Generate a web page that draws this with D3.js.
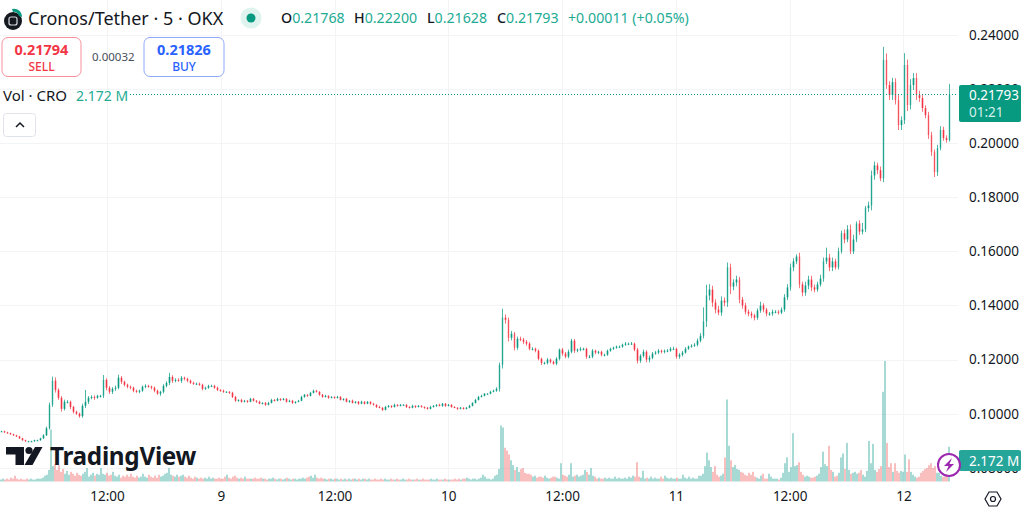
<!DOCTYPE html>
<html>
<head>
<meta charset="utf-8">
<script src="https://cdn.jsdelivr.net/npm/d3@7"></script>
<style>
  html, body { margin: 0; padding: 0; background: #fff; overflow: hidden; }
  svg { display: block; }
  text { font-family: "Noto Sans", sans-serif; fill: #131722; }
</style>
</head>
<body>
<svg id="canvas" width="1024" height="510"></svg>
<script>
// closes, one candle every 3 pixels
let closes = [
  .0935,.0931,.0928,.0924,.0920,.0916,.0909,.0902,.0898,.0898,
  .0898,.0902,.0902,.0909,.0920,.0946,.1033,.1122,.1088,.1059,
  .1018,.1044,.1044,.1025,.1007,.1000,.0991,.1029,.1044,.1059,
  .1062,.1059,.1066,.1066,.1125,.1096,.1081,.1092,.1096,.1133,
  .1118,.1107,.1100,.1096,.1085,.1081,.1085,.1100,.1103,.1100,
  .1096,.1085,.1074,.1081,.1103,.1114,.1136,.1122,.1125,.1122,
  .1133,.1129,.1122,.1114,.1111,.1111,.1107,.1092,.1096,.1103,
  .1103,.1096,.1088,.1085,.1081,.1081,.1077,.1062,.1048,.1051,
  .1044,.1048,.1044,.1055,.1048,.1044,.1037,.1040,.1033,.1040,
  .1051,.1048,.1055,.1051,.1055,.1044,.1048,.1040,.1044,.1048,
  .1062,.1070,.1066,.1077,.1085,.1081,.1070,.1062,.1066,.1059,
  .1062,.1059,.1062,.1051,.1055,.1044,.1048,.1040,.1044,.1037,
  .1044,.1037,.1044,.1037,.1033,.1025,.1022,.1014,.1025,.1029,
  .1025,.1033,.1029,.1033,.1033,.1025,.1022,.1029,.1025,.1029,
  .1025,.1022,.1018,.1025,.1029,.1033,.1029,.1037,.1029,.1033,
  .1025,.1022,.1018,.1022,.1018,.1022,.1029,.1040,.1051,.1062,
  .1066,.1074,.1074,.1081,.1085,.1092,.1181,.1355,.1347,.1281,
  .1296,.1244,.1277,.1274,.1266,.1259,.1240,.1240,.1233,.1203,
  .1188,.1188,.1200,.1192,.1185,.1203,.1237,.1222,.1211,.1229,
  .1270,.1233,.1237,.1240,.1240,.1211,.1211,.1233,.1226,.1229,
  .1218,.1218,.1233,.1240,.1244,.1248,.1248,.1255,.1259,.1259,
  .1259,.1237,.1196,.1214,.1229,.1200,.1207,.1222,.1226,.1233,
  .1229,.1233,.1233,.1240,.1240,.1211,.1218,.1226,.1240,.1248,
  .1251,.1255,.1270,.1288,.1341,.1437,.1459,.1411,.1385,.1374,
  .1418,.1411,.1541,.1470,.1485,.1496,.1422,.1400,.1377,.1370,
  .1363,.1355,.1381,.1400,.1385,.1370,.1370,.1377,.1377,.1374,
  .1385,.1430,.1467,.1541,.1563,.1581,.1478,.1448,.1474,.1496,
  .1467,.1459,.1478,.1500,.1563,.1577,.1541,.1563,.1541,.1600,
  .1667,.1644,.1681,.1600,.1644,.1703,.1673,.1681,.1760,.1770,
  .1881,.1918,.1900,.1870,.2308,.2215,.2178,.2226,.2159,.2067,
  .2085,.2289,.2141,.2215,.2241,.2178,.2167,.2130,.2104,.2030,
  .1967,.1893,.1982,.2049,.2019,.2012,.21793
]

// wick lengths above / below the body, in 0.0001 USDT
let wickUp = [
  2,2,2,2,2,2,2,2,2,2,
  2,2,2,2,4,6,8,15,12,6,
  6,8,6,4,4,4,4,8,44,6,
  6,6,4,4,18,6,6,6,8,11,
  6,4,4,4,4,4,4,4,6,4,
  4,4,4,4,6,6,15,6,6,6,
  6,4,4,4,4,4,4,4,4,4,
  4,4,4,2,4,2,2,4,4,2,
  4,3,2,4,3,2,4,2,3,4,
  4,3,4,2,3,2,4,3,2,3,
  4,3,2,4,4,3,2,3,4,2,
  3,2,4,3,2,3,2,4,2,3,
  4,2,3,2,3,2,4,2,4,3,
  2,4,2,3,2,2,3,4,2,3,
  2,2,3,4,3,2,4,3,2,3,
  2,3,2,3,2,3,4,2,4,4,
  4,2,2,4,4,6,8,33,12,8,
  10,6,8,8,6,6,6,6,4,4,
  4,4,6,4,4,6,4,6,6,8,
  7,6,4,6,4,4,6,6,4,4,
  4,4,4,4,4,4,4,4,6,4,
  6,4,6,6,8,6,8,6,6,6,
  4,4,6,6,8,4,6,6,6,4,
  6,6,8,10,52,40,20,14,12,14,
  16,12,18,14,12,14,10,10,10,8,
  8,6,8,14,8,6,6,8,6,6,
  8,12,12,14,12,8,14,10,14,14,
  14,10,10,14,14,37,14,14,10,14,
  10,14,16,18,18,8,12,24,8,14,
  18,14,10,14,48,24,14,16,14,20,
  14,44,20,22,18,18,16,12,10,12,
  12,10,12,14,12,10,40
]
let wickDown = [
  2,2,2,2,2,2,2,2,2,2,
  2,2,2,2,2,2,4,8,10,8,
  10,6,6,8,6,4,6,6,8,8,
  6,8,4,6,8,10,8,8,8,6,
  8,6,6,6,6,4,6,4,6,4,
  6,6,4,8,6,6,8,8,6,4,
  8,6,6,4,4,4,4,6,4,4,
  4,4,4,4,4,2,4,4,4,4,
  3,2,4,2,3,4,2,3,4,2,
  2,3,2,4,2,3,2,4,3,2,
  2,3,4,2,2,3,4,3,2,4,
  2,4,3,2,3,2,4,2,3,4,
  2,3,2,4,3,4,2,4,2,3,
  4,2,3,2,2,4,3,2,4,2,
  3,4,3,2,2,4,2,3,4,2,
  3,2,4,2,3,2,2,2,2,2,
  2,2,2,2,2,4,10,14,14,14,
  10,10,8,6,8,8,6,6,6,6,
  8,6,6,6,4,6,6,8,6,6,
  6,8,6,6,6,8,6,6,6,6,
  6,6,4,4,4,4,4,4,4,6,
  4,6,10,8,6,10,10,6,4,6,
  6,6,6,4,4,8,8,6,4,4,
  4,4,6,6,10,20,18,16,14,10,
  12,14,16,28,14,14,14,12,10,10,
  10,10,8,8,10,10,8,8,6,8,
  6,8,10,12,14,10,14,14,12,14,
  14,10,8,8,12,10,14,14,8,8,
  8,14,10,10,10,10,12,10,10,14,
  18,16,14,10,14,14,18,18,16,18,
  18,14,22,16,18,18,14,14,12,14,
  14,18,14,8,10,10,6
]

// volume in millions CRO, finer than the candles
let volumes = [
  .2,.3,.2,.3,.2,.4,.3,.6,.3,.2,.3,.2,.2,.3,.2,.3,.2,.2,.3,.3,.3,.4,.6,.7,1.2,
  5.4,1.6,1.8,1.2,1.7,1.0,1.3,.8,1.1,.7,1.0,.8,.6,.9,.7,.6,.8,1.0,1.4,.5,.7,.9,.6,.8,.7,
  1.4,.8,.7,.9,.6,.7,1.0,.6,.5,.7,.4,.6,.5,.7,.5,.8,.5,.4,.6,.4,.5,.8,.5,.4,.7,
  .5,.4,.6,.4,.7,.5,.6,.8,.9,1.4,.7,.6,.5,.7,.5,.6,.7,.5,.4,.6,.4,.3,.5,.4,.3,
  .4,.3,.4,.3,.5,.3,.4,.3,.3,.4,.3,.3,.5,.7,.4,.3,.5,.6,.4,.3,.4,.3,.5,.3,.3,
  .3,.3,.4,.3,.3,.4,.3,.3,.2,.3,.3,.4,.3,.2,.3,.3,.2,.3,.4,.3,.2,.3,.3,.2,.3,
  .3,.4,.3,.4,.5,.6,.4,.7,.4,.3,.4,.3,.3,.2,.3,.3,.2,.3,.3,.2,.3,.2,.3,.2,.3,
  .2,.3,.3,.2,.3,.2,.3,.3,.2,.3,.2,.2,.3,.2,.2,.3,.2,.3,.2,.2,.3,.2,.2,.3,.2,
  .2,.3,.2,.2,.3,.2,.2,.2,.3,.2,.2,.3,.2,.2,.2,.3,.2,.2,.3,.2,.2,.2,.3,.2,.2,
  .2,.2,.3,.2,.3,.2,.3,.3,.4,.3,.2,.3,.3,.2,.3,.4,.7,.5,.3,.3,.2,.3,.6,.7,1.3,
  5.8,5.6,3.5,3.2,2.8,2.2,1.7,1.2,1.5,1.0,1.3,1.4,.9,.8,.8,.7,.5,.6,.4,.5,.5,.4,.6,.4,.3,
  .4,.5,.5,.4,.3,1.9,.7,.6,.5,.7,1.9,.5,.6,.7,.5,.6,.7,1.2,1.0,.7,1.4,.6,.5,.3,.4,
  .3,.3,.4,.3,.4,.3,.3,.5,.3,.4,.3,.3,.4,.3,.5,.4,.6,.5,2.0,.5,.4,1.1,.3,.4,.3,
  .5,.3,.4,.3,.3,.5,.3,.6,.4,.3,.4,.3,.3,.4,.3,.3,.7,.4,.3,.5,.3,.4,.3,.3,.6,
  .6,.8,1.6,3.0,2.2,1.5,1.0,1.6,.7,.5,.6,.8,2.5,8.5,3.7,2.2,1.5,1.7,1.3,1.2,1.0,.9,.7,.6,.9,
  .7,1.0,.5,.4,.3,.6,.8,.3,.3,.8,.5,.3,.3,.3,.2,.4,.9,1.9,2.5,1.0,1.5,5.0,1.6,1.7,2.0,
  1.0,.7,.5,.6,.5,.4,.4,.5,.6,.8,1.5,3.1,1.8,1.6,3.7,1.2,1.0,.5,.6,.9,2.5,2.9,1.3,4.0,1.2,
  .8,.9,1.0,.8,.9,1.2,.7,.5,1.1,4.2,1.9,3.9,1.2,1.0,1.3,1.6,9.3,12.5,4.0,1.5,1.9,1.0,1.9,1.1,.9,
  1.1,1.0,2.8,1.0,2.3,1.0,.7,.5,.4,.5,.9,1.1,1.3,1.4,1.7,1.9,1.4,1.6,.9,.9,.6,.5,.5,.6,3.6
]

let priceTicks = [0.08, 0.10, 0.12, 0.14, 0.16, 0.18, 0.20, 0.22, 0.24]
let timeTicks = [12, 24, 36, 48, 60, 72, 84, 96] // hours since midnight on the 8th
let timeLabels = ['12:00', '9', '12:00', '10', '12:00', '11', '12:00', '12']
let ohlcLabels = ['O', 'H', 'L', 'C']
let ohlcValues = ['0.21768', '0.22200', '0.21628', '0.21793']
let lastPrice = 0.21793
let lastVolume = 2.172

let up = '#089981'
let down = '#f23645'
let legendGreen = '#22ab94'
let chartRight = 958

let svg = d3.select('#canvas')

// the reference is a slightly soft screenshot
svg.append('defs').append('filter')
  .attr('id', 'soft')
  .append('feGaussianBlur')
  .attr('stdDeviation', 0.35)

let y = d3.scaleLinear().domain([0.24, 0.08]).range([35, 467.8])
let xTime = d3.scaleLinear().domain([0.71, 101.76]).range([0, chartRight])
let x = d3.scaleLinear().domain([0, closes.length]).range([0, 951])
let xVol = d3.scaleLinear().domain([0, volumes.length]).range([0, 950])
let yVol = d3.scaleLinear().domain([0, 12.6]).range([481.5, 360])

let candles = closes.map((c, i) => {
  let o = i === 0 ? c : closes[i - 1]
  return {
    i: i, o: o, c: c,
    h: Math.max(o, c) + wickUp[i] * 0.0001,
    l: Math.min(o, c) - wickDown[i] * 0.0001
  }
})

// grid
let grid = svg.append('g').attr('stroke', '#f3f4f6').attr('stroke-width', 1)
grid.selectAll('line.h')
  .data(priceTicks)
  .enter()
  .append('line')
  .attr('x1', 0)
  .attr('x2', chartRight)
  .attr('y1', d => Math.round(y(d)) + 0.5)
  .attr('y2', d => Math.round(y(d)) + 0.5)
grid.selectAll('line.v')
  .data(timeTicks)
  .enter()
  .append('line')
  .attr('y1', 0)
  .attr('y2', 483)
  .attr('x1', d => Math.round(xTime(d)) + 0.5)
  .attr('x2', d => Math.round(xTime(d)) + 0.5)

// volume
svg.append('g').attr('filter', 'url(#soft)').selectAll('rect')
  .data(volumes)
  .enter()
  .append('rect')
  .attr('x', (d, i) => xVol(i) + 0.2)
  .attr('width', 1.6)
  .attr('y', d => yVol(d))
  .attr('height', d => yVol(0) - yVol(d))
  .attr('fill', (d, i) => {
    let k = Math.min(closes.length - 1, Math.floor(x.invert(xVol(i))))
    return candles[k].c >= candles[k].o ? 'rgba(38,166,154,0.5)' : 'rgba(239,83,80,0.45)'
  })

// candles, long bodies come out pale in the reference as they are sub pixel wide
let candleG = svg.append('g').attr('filter', 'url(#soft)').selectAll('g')
  .data(candles)
  .enter()
  .append('g')
  .attr('fill-opacity', d => Math.abs(y(d.o) - y(d.c)) > 14 ? 0.55 : 1)
candleG.append('line')
  .attr('x1', d => x(d.i) + 1.5)
  .attr('x2', d => x(d.i) + 1.5)
  .attr('y1', d => y(d.h))
  .attr('y2', d => y(d.l))
  .attr('stroke', d => d.c >= d.o ? up : down)
  .attr('stroke-width', 1)
  .attr('stroke-opacity', 0.7)
candleG.append('rect')
  .attr('x', d => x(d.i) + 0.7)
  .attr('width', 1.6)
  .attr('y', d => Math.min(y(d.o), y(d.c)))
  .attr('height', d => Math.max(1, Math.abs(y(d.o) - y(d.c))))
  .attr('fill', d => d.c >= d.o ? up : down)

// price line
svg.append('line')
  .attr('x1', 130)
  .attr('x2', chartRight)
  .attr('y1', 94.5)
  .attr('y2', 94.5)
  .attr('stroke', up)
  .attr('stroke-width', 1)
  .attr('stroke-dasharray', '1 2')

// axes
let priceAxis = d3.axisRight(y)
  .tickValues(priceTicks)
  .tickSize(0)
  .tickPadding(0)
  .tickFormat(d3.format('.5f'))
svg.append('g')
  .attr('transform', 'translate(969,0)')
  .call(priceAxis)
  .call(g => g.select('.domain').remove())
  .selectAll('text')
  .style('font-family', '"Noto Sans", sans-serif')
  .style('font-size', '13.5px')
  .style('fill', '#131722')

let timeAxis = d3.axisBottom(xTime)
  .tickValues(timeTicks)
  .tickSize(0)
  .tickPadding(0)
  .tickFormat((d, i) => timeLabels[i])
svg.append('g')
  .attr('transform', 'translate(0,491)')
  .call(timeAxis)
  .call(g => g.select('.domain').remove())
  .selectAll('text')
  .style('font-family', '"Noto Sans", sans-serif')
  .style('font-size', '13.5px')
  .style('fill', '#131722')

// last price tag
svg.append('rect').attr('x', 959).attr('y', 85).attr('width', 62).attr('height', 37).attr('rx', 2).attr('fill', up)
svg.append('text').attr('x', 969).attr('y', 100)
  .style('font-size', '13.5px').style('fill', '#fff').text(lastPrice.toFixed(5))
svg.append('text').attr('x', 969).attr('y', 117)
  .style('font-size', '13.5px').style('fill', '#d5efe9').text('01:21')

// volume tag
svg.append('rect').attr('x', 959).attr('y', 450).attr('width', 62).attr('height', 21).attr('rx', 2).attr('fill', '#26a69a')
svg.append('text').attr('x', 969).attr('y', 466)
  .style('font-size', '13.5px').style('fill', '#fff').text(lastVolume.toFixed(3) + ' M')

// bolt badge
svg.append('circle').attr('cx', 949).attr('cy', 465).attr('r', 11).attr('fill', '#fff').attr('stroke', '#9c27b0').attr('stroke-width', 2)
svg.append('path').attr('d', 'M952 458 L944 466 L948.5 466 L946 472 L954 464 L949.5 464 Z').attr('fill', '#9c27b0')

// header
svg.append('circle').attr('cx', 13).attr('cy', 21).attr('r', 9).attr('fill', '#14181f')
svg.append('rect').attr('x', 9).attr('y', 17).attr('width', 8).attr('height', 8).attr('rx', 2).attr('fill', 'none').attr('stroke', '#d8dbe0').attr('stroke-width', 1.2)
svg.append('path').attr('d', 'M12 9 A8 8 0 0 1 22 17 L19 16 A5 5 0 0 0 13 12 Z').attr('fill', up)
svg.append('text').attr('x', 28).attr('y', 25).style('font-size', '18px').text('Cronos/Tether · 5 · OKX')
svg.append('circle').attr('cx', 251).attr('cy', 18).attr('r', 10.5).attr('fill', '#dff3ef')
svg.append('circle').attr('cx', 251).attr('cy', 18).attr('r', 4.5).attr('fill', up)

let ohlcX = [281, 354, 427, 497]
ohlcLabels.forEach((l, i) => {
  let t = svg.append('text').attr('x', ohlcX[i]).attr('y', 23).style('font-size', '14.2px')
  t.append('tspan').style('font-weight', 500).text(l)
  t.append('tspan').style('fill', legendGreen).text(ohlcValues[i])
})
svg.append('text').attr('x', 568).attr('y', 23).style('font-size', '14.2px').style('fill', legendGreen).text('+0.00011 (+0.05%)')

// sell / buy
svg.append('rect').attr('x', 2).attr('y', 37.5).attr('width', 79).attr('height', 39).attr('rx', 6).attr('fill', '#fff').attr('stroke', '#f7909a')
svg.append('text').attr('x', 41.5).attr('y', 55).attr('text-anchor', 'middle').style('font-size', '14.5px').style('font-weight', 700).style('fill', down).text('0.21794')
svg.append('text').attr('x', 41.5).attr('y', 71).attr('text-anchor', 'middle').style('font-size', '12px').style('font-weight', 500).style('fill', down).text('SELL')
svg.append('text').attr('x', 92).attr('y', 61).style('font-size', '11.5px').style('fill', '#4a4e59').text('0.00032')
svg.append('rect').attr('x', 144).attr('y', 37.5).attr('width', 80).attr('height', 39).attr('rx', 6).attr('fill', '#fff').attr('stroke', '#8fa8f8')
svg.append('text').attr('x', 184).attr('y', 55).attr('text-anchor', 'middle').style('font-size', '14.5px').style('font-weight', 700).style('fill', '#2962ff').text('0.21826')
svg.append('text').attr('x', 184).attr('y', 71).attr('text-anchor', 'middle').style('font-size', '12px').style('font-weight', 500).style('fill', '#2962ff').text('BUY')

// volume legend
svg.append('text').attr('x', 3).attr('y', 101).style('font-size', '15px').text('Vol · CRO')
svg.append('text').attr('x', 76).attr('y', 101).style('font-size', '14px').style('fill', legendGreen).text(lastVolume.toFixed(3) + ' M')
svg.append('rect').attr('x', 3.5).attr('y', 113.5).attr('width', 32).attr('height', 23).attr('rx', 3).attr('fill', '#fff').attr('stroke', '#e0e3eb')
svg.append('path').attr('d', 'M16 127 L20 123 L24 127').attr('fill', 'none').attr('stroke', '#131722').attr('stroke-width', 1.5)

// logo
svg.append('path').attr('d', 'M6 447 H24 V465 H15.5 V454.5 H6 Z').attr('fill', '#131722')
svg.append('circle').attr('cx', 29).attr('cy', 450.5).attr('r', 3.6).attr('fill', '#131722')
svg.append('path').attr('d', 'M35 447 H42.5 L32.5 465 H24.5 Z').attr('fill', '#131722')
svg.append('text').attr('x', 50).attr('y', 465).style('font-size', '24.3px').style('font-weight', 700).style('letter-spacing', '-0.3px').text('TradingView')

// settings hexagon
svg.append('path').attr('d', 'M985 499 L989 492 H997 L1001 499 L997 506 H989 Z').attr('fill', 'none').attr('stroke', '#131722').attr('stroke-width', 1.2)
svg.append('circle').attr('cx', 993).attr('cy', 499).attr('r', 2.5).attr('fill', 'none').attr('stroke', '#131722').attr('stroke-width', 1.2)
</script>
</body>
</html>
